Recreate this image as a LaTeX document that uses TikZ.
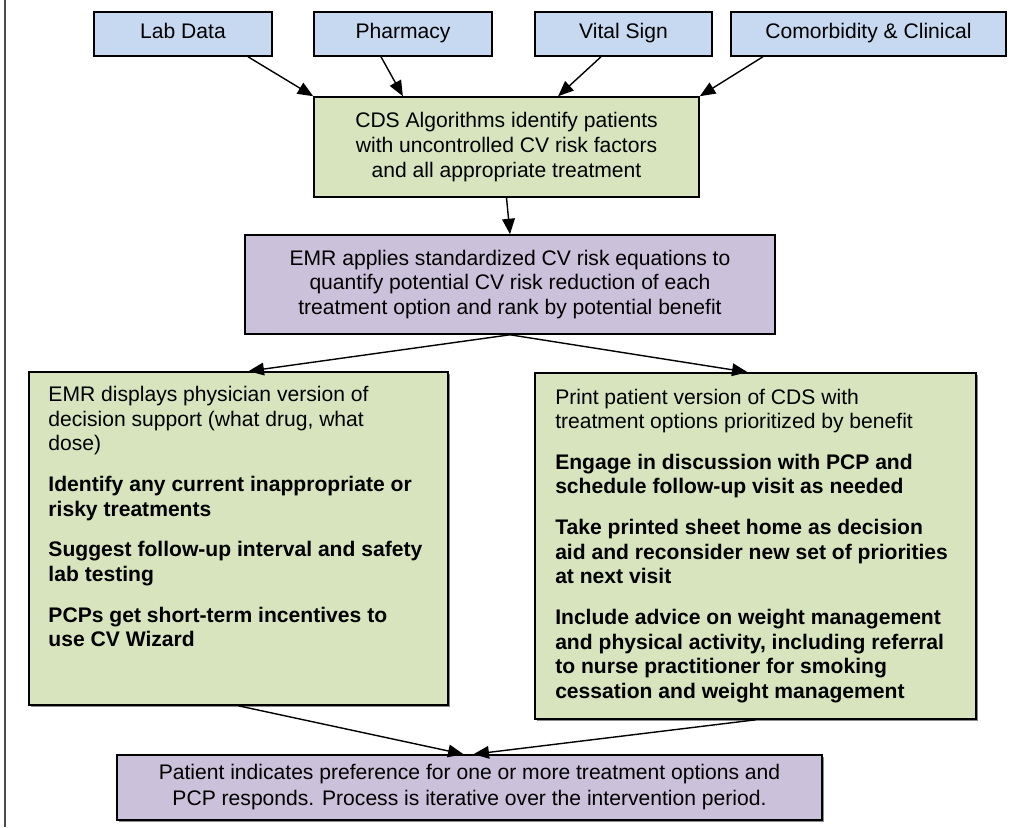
\documentclass[tikz,border=0pt]{standalone}
\usepackage{fontspec}
\setmainfont{Liberation Sans}
\usetikzlibrary{arrows.meta,shadows}
\definecolor{srcblue}{RGB}{198,217,241}
\definecolor{cdsgreen}{RGB}{215,228,189}
\definecolor{emrpurple}{RGB}{204,193,218}
\begin{document}
\begin{tikzpicture}[x=0.025cm,y=-0.025cm,
        box/.style={draw,line width=1.1pt,inner sep=0pt},
        src/.style={box,fill=srcblue,minimum height=1.1cm,
            text height=1.6ex,text depth=0.5ex},
        shade/.style={drop shadow={shadow xshift=1.2pt,
            shadow yshift=-1.2pt,fill=black!45,opacity=1}},
        body/.style={font=\fontsize{15}{17.5}\selectfont},
        link/.style={line width=1pt,-{Triangle[length=11pt,width=9pt]}}]
            \useasboundingbox (0,0) rectangle (1010,827);
            \draw[line width=0.8pt,black!70] (5,0) -- (5,827);
            % data sources
            \foreach \name/\txt/\x/\w in {lab/Lab Data/183/4.45,
                pharm/Pharmacy/403/4.45,vital/Vital Sign/623.5/4.425,
                comorb/Comorbidity \& Clinical/868.5/6.875}
            \node[src,body,minimum width=\w cm] (\name) at (\x,34) {\txt};
            \node[box,body,fill=cdsgreen,align=center,minimum width=9.625cm,
                minimum height=2.5cm] (cds) at (506.5,147)
                {CDS Algorithms identify patients\\with uncontrolled CV risk factors\\
                and all appropriate treatment};
            \node[box,body,fill=emrpurple,align=center,minimum width=13.25cm,
                minimum height=2.475cm] (emr) at (510,284.5)
                {EMR applies standardized CV risk equations to\\
                quantify potential CV risk reduction of each\\
                treatment option and rank by potential benefit};
            % physician and patient sides
            \node[box,shade,fill=cdsgreen,minimum width=10.475cm,
                minimum height=8.325cm] (phys) at (238.5,538.5) {};
            \node[body,align=left,inner sep=0pt,anchor=north west] (physTxt)
                at ([shift={(0.5cm,-0.375cm)}]phys.north west)
                {EMR displays physician version of\\
                decision support (what drug, what\\dose)\\[0.4cm]
                \textbf{Identify any current inappropriate or}\\
                \textbf{risky treatments}\\[0.4cm]
                \textbf{Suggest follow-up interval and safety}\\
                \textbf{lab testing}\\[0.4cm]
                \textbf{PCPs get short-term incentives to}\\
                \textbf{use CV Wizard}};
            \node[box,shade,fill=cdsgreen,minimum width=11.025cm,
                minimum height=8.65cm] (pat) at (755.5,546) {};
            \node[body,align=left,inner sep=0pt,anchor=north west] (patTxt)
                at ([shift={(0.52cm,-0.41cm)}]pat.north west)
                {Print patient version of CDS with\\
                treatment options prioritized by benefit\\[0.4cm]
                \textbf{Engage in discussion with PCP and}\\
                \textbf{schedule follow-up visit as needed}\\[0.4cm]
                \textbf{Take printed sheet home as decision}\\
                \textbf{aid and reconsider new set of priorities}\\
                \textbf{at next visit}\\[0.4cm]
                \textbf{Include advice on weight management}\\
                \textbf{and physical activity, including referral}\\
                \textbf{to nurse practitioner for smoking}\\
                \textbf{cessation and weight management}};
            \node[box,shade,fill=emrpurple,align=center,minimum width=17.625cm,
                minimum height=1.625cm,font=\fontsize{15}{18.5}\selectfont]
                (resp) at (469.5,787.5)
                {Patient indicates preference for one or more treatment options and\\
                PCP responds. Process is iterative over the intervention period.};
            % connectors
            \draw[link] ([xshift=1.625cm]lab.south) -- (cds.north west);
            \draw[link] ([xshift=-0.55cm]pharm.south) -- ([xshift=-2.59cm]cds.north);
            \draw[link] ([xshift=-0.5625cm]vital.south) -- ([xshift=1.29cm]cds.north);
            \draw[link] ([xshift=-2.64cm]comorb.south) -- (cds.north east);
            \draw[link] (cds.south) -- (emr.north);
            \draw[link] (emr.south) -- ([xshift=0.25cm]phys.north);
            \draw[link] (emr.south) -- ([xshift=-0.2cm]pat.north);
            \draw[link] (phys.south) -- ([xshift=-0.15cm]resp.north);
            \draw[link] (pat.south) -- ([xshift=0.1cm]resp.north);
\end{tikzpicture}
\end{document}
